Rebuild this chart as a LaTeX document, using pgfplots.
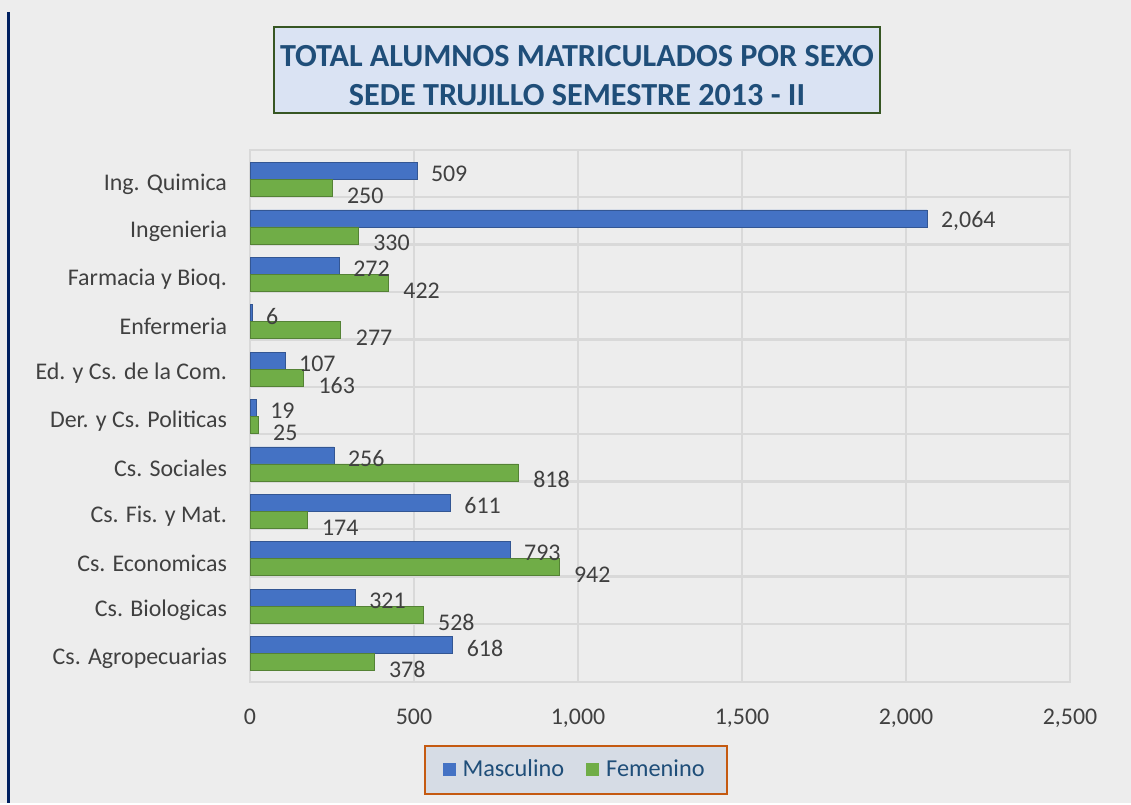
\documentclass[border=0pt]{standalone}
\usepackage{pgfplots}
\pgfplotsset{compat=1.18}
\usepackage{fontspec}
\setmainfont{Carlito}
\definecolor{bgray}{HTML}{EDEDED}
\definecolor{gridc}{HTML}{D9D9D9}
\definecolor{masc}{HTML}{4472C4}
\definecolor{fem}{HTML}{70AD47}
\definecolor{titleblue}{HTML}{1F4E79}
\definecolor{titlefill}{HTML}{DAE3F3}
\definecolor{titleedge}{HTML}{375623}
\definecolor{legedge}{HTML}{C55A11}
\definecolor{legfill}{HTML}{D6DCE5}
\definecolor{navy}{HTML}{002060}
\definecolor{txt}{HTML}{404040}

\begin{document}
\begin{tikzpicture}
% frame, title (pixel units of the reference, axis corner at 250,681.7)
\begin{scope}[x=0.5bp,y=-0.5bp,shift={(-250,-681.7)}]
\fill[bgray] (0,0) rectangle (1131,803);
\draw[navy, line width=1.3bp] (8.5,12) -- (8.5,803);
\draw[titleedge, fill=titlefill, line width=1bp] (274,27) rectangle (880,113);
\node[font=\fontsize{16.15}{19}\selectfont\bfseries, text=titleblue] at (577,56) {TOTAL ALUMNOS MATRICULADOS POR SEXO};
\node[font=\fontsize{16.15}{19}\selectfont\bfseries, text=titleblue] at (577,95) {SEDE TRUJILLO SEMESTRE 2013 - II};
\end{scope}

\begin{axis}[
  at={(0,0)}, anchor=south west, scale only axis,
  width=410bp, height=265.9bp,
  xbar, bar width=8.5bp, clip=false,
  xmin=0, xmax=2500, ymin=-0.5, ymax=10.72,
  xtick={0,500,1000,1500,2000,2500},
  ytick={0,...,10},
  yticklabels={Cs. Agropecuarias, Cs. Biologicas, Cs. Economicas, Cs. Fis. y Mat., Cs. Sociales,
    Der. y Cs. Politicas, Ed. y Cs. de la Com., Enfermeria, Farmacia y Bioq., Ingenieria, Ing. Quimica},
  minor ytick={0.72,1.72,2.72,3.72,4.72,5.72,6.72,7.72,8.72,9.72},
  xmajorgrids, yminorgrids,
  grid style={gridc, line width=1.2bp},
  minor grid style={gridc, line width=1.2bp},
  axis line style={gridc, line width=1.2bp},
  major tick length=0pt, minor tick length=0pt,
  tick label style={font=\fontsize{12}{14}\selectfont, text=txt},
  yticklabel style={xshift=-8bp},
  xticklabel style={yshift=-10bp},
  /pgf/number format/1000 sep={,},
  /pgf/number format/assume math mode=true,
  legend style={at={(0.397,-0.166)}, anchor=center, draw=legedge, line width=1bp,
    fill=legfill, font=\fontsize{12.2}{14}\selectfont, text=titleblue,
    legend columns=2, inner xsep=9bp, inner ysep=5bp,
    /tikz/every odd column/.append style={column sep=1.5bp},
    /tikz/every even column/.append style={column sep=9bp}},
  legend image code/.code={\fill[#1, draw=none] (0bp,-3.25bp) rectangle (6.5bp,3.25bp);},
]
% Masculino
\addplot[fill=masc, draw=masc!75!black, line width=0.4bp, bar shift=6.5bp,
  nodes near coords,
  every node near coord/.append style={text=txt, font=\fontsize{12}{14}\selectfont, xshift=3.5bp, yshift=-1.5bp}]
  coordinates {(618,0) (321,1) (793,2) (611,3) (256,4) (19,5) (107,6) (6,7) (272,8) (2064,9) (509,10)};
\addlegendentry{Masculino}
% Femenino
\addplot[fill=fem, draw=fem!75!black, line width=0.4bp, bar shift=-2bp,
  nodes near coords,
  every node near coord/.append style={text=txt, font=\fontsize{12}{14}\selectfont, xshift=4bp, yshift=-3.75bp}]
  coordinates {(378,0) (528,1) (942,2) (174,3) (818,4) (25,5) (163,6) (277,7) (422,8) (330,9) (250,10)};
\addlegendentry{Femenino}
\end{axis}
\end{tikzpicture}
\end{document}
